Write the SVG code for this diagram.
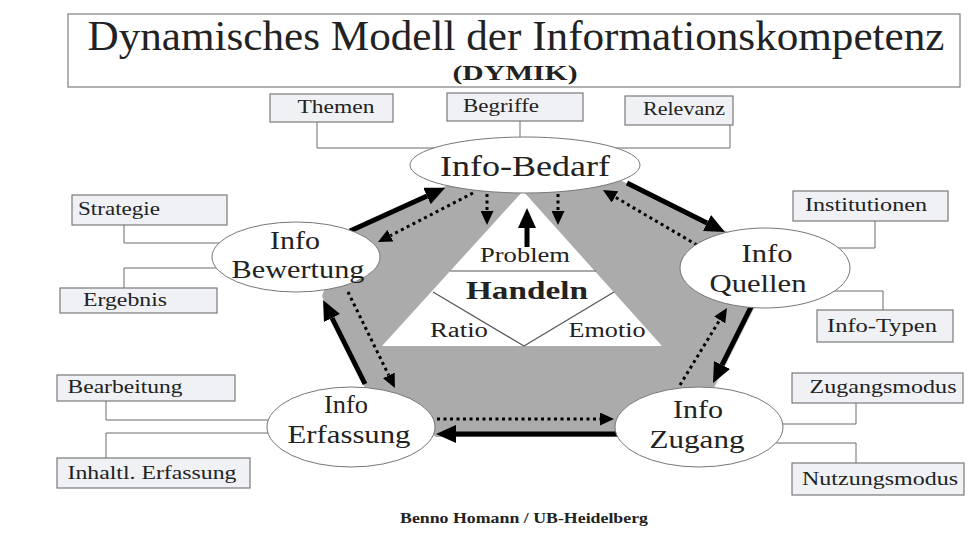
<svg xmlns="http://www.w3.org/2000/svg" width="976" height="542" viewBox="0 0 976 542">
<style>
text{font-family:"Liberation Serif","DejaVu Serif",serif;fill:#222;}
.box{fill:#eff1f5;stroke:#7a7a7a;stroke-width:1.2;}
.bt{font-size:19px;text-anchor:middle;}
.ell{fill:#fff;stroke:#777;stroke-width:1;}
.et{font-size:25px;text-anchor:middle;}
.link{fill:none;stroke:#6a6a6a;stroke-width:1;}
.thick{fill:none;stroke:#000;stroke-width:5;marker-end:url(#ah);}
.dot{fill:none;stroke:#000;stroke-width:3;stroke-dasharray:3 3.5;marker-end:url(#ahs);}
.tl{fill:none;stroke:#555;stroke-width:1.2;}
</style>
<defs>
<marker id="ah" markerUnits="userSpaceOnUse" markerWidth="20" markerHeight="18" refX="0" refY="9" orient="auto"><path d="M0,0 L20,9 L0,18 z" fill="#000"/></marker>
<marker id="ahs" markerUnits="userSpaceOnUse" markerWidth="14" markerHeight="13" refX="0" refY="6.5" orient="auto"><path d="M0,0 L14,6.5 L0,13 z" fill="#000"/></marker>
</defs>
<rect width="976" height="542" fill="#fff"/>
<g id="title">
<rect x="68" y="14" width="892" height="73" fill="#fff" stroke="#888" stroke-width="1.3"/>
<text x="516" y="50" font-size="42" text-anchor="middle" textLength="857" lengthAdjust="spacingAndGlyphs">Dynamisches Modell der Informationskompetenz</text>
<text x="515" y="80" font-size="22" font-weight="bold" text-anchor="middle" textLength="125" lengthAdjust="spacingAndGlyphs">(DYMIK)</text>
</g>
<g id="cycle-area">
<polygon points="345,234 450,184 620,180 730,233 758,300 712,392 617,437 436,437 365,388 322,296" fill="#ababab"/>
</g>
<g id="handeln">
<polygon points="523,191 382,346 662,346" fill="#fff"/>
<line class="tl" x1="450" y1="271" x2="596" y2="271"/>
<line class="tl" x1="433" y1="292" x2="524" y2="346"/>
<line class="tl" x1="614" y1="292" x2="524" y2="346"/>
<text x="525" y="262" font-size="21" text-anchor="middle" textLength="90" lengthAdjust="spacingAndGlyphs">Problem</text>
<text x="527" y="299" font-size="25" font-weight="bold" text-anchor="middle" textLength="122" lengthAdjust="spacingAndGlyphs">Handeln</text>
<text x="459" y="337" font-size="20" text-anchor="middle" textLength="58" lengthAdjust="spacingAndGlyphs">Ratio</text>
<text x="607" y="337" font-size="20" text-anchor="middle" textLength="77" lengthAdjust="spacingAndGlyphs">Emotio</text>
</g>
<g id="connectors">
<path class="link" d="M317,122 V148 H450"/>
<path class="link" d="M520,121 V145"/>
<path class="link" d="M730,125 V148 H600"/>
<path class="link" d="M124,225 V243 H240"/>
<path class="link" d="M124,288 V268 H240"/>
<path class="link" d="M875,221 V248 H800"/>
<path class="link" d="M800,291 H883 V310"/>
<path class="link" d="M106,401 V420 H300"/>
<path class="link" d="M106,458 V433 H300"/>
<path class="link" d="M856,403 V424 H740"/>
<path class="link" d="M740,443 H856 V463"/>
<line class="thick" x1="350" y1="231" x2="427" y2="196"/>
<line class="thick" x1="627" y1="183" x2="707" y2="223"/>
<line class="thick" x1="753" y1="303" x2="722" y2="365"/>
<line class="thick" x1="617" y1="434" x2="456" y2="434"/>
<line class="thick" x1="365" y1="384" x2="332" y2="318"/>
<line class="thick" x1="527" y1="247" x2="527" y2="228"/>
<line class="dot" x1="473" y1="193" x2="390.4" y2="235.6"/>
<line class="dot" x1="697" y1="245" x2="615" y2="197"/>
<line class="dot" x1="680" y1="385" x2="719.7" y2="320"/>
<line class="dot" x1="437" y1="419" x2="600" y2="419"/>
<line class="dot" x1="348" y1="292" x2="388.8" y2="375.4"/>
<line class="dot" x1="487" y1="194" x2="487" y2="211"/>
<line class="dot" x1="558" y1="194" x2="558" y2="211"/>
</g>
<g id="info-bedarf">
<ellipse class="ell" cx="525" cy="165" rx="115" ry="28"/>
<text x="525" y="176" font-size="30" text-anchor="middle" textLength="170" lengthAdjust="spacingAndGlyphs">Info-Bedarf</text>
</g>
<g id="info-bewertung">
<ellipse class="ell" cx="296" cy="257" rx="84" ry="35"/>
<text class="et" x="295" y="249" textLength="50" lengthAdjust="spacingAndGlyphs">Info</text>
<text class="et" x="298" y="278" textLength="133" lengthAdjust="spacingAndGlyphs">Bewertung</text>
</g>
<g id="info-quellen">
<ellipse class="ell" cx="765" cy="268" rx="85" ry="40"/>
<text class="et" x="767" y="262" textLength="51" lengthAdjust="spacingAndGlyphs">Info</text>
<text class="et" x="758" y="292" textLength="97" lengthAdjust="spacingAndGlyphs">Quellen</text>
</g>
<g id="info-zugang">
<ellipse class="ell" cx="699" cy="427" rx="84" ry="40"/>
<text class="et" x="698" y="418" textLength="50" lengthAdjust="spacingAndGlyphs">Info</text>
<text class="et" x="697" y="448" textLength="95" lengthAdjust="spacingAndGlyphs">Zugang</text>
</g>
<g id="info-erfassung">
<ellipse class="ell" cx="351" cy="427" rx="84" ry="40"/>
<text class="et" x="346" y="413" textLength="44" lengthAdjust="spacingAndGlyphs">Info</text>
<text class="et" x="349" y="443" textLength="123" lengthAdjust="spacingAndGlyphs">Erfassung</text>
</g>
<g id="themen"><rect class="box" x="270" y="94" width="123" height="28"/><text class="bt" x="336" y="113" textLength="77" lengthAdjust="spacingAndGlyphs">Themen</text></g>
<g id="begriffe"><rect class="box" x="447" y="93" width="136" height="28"/><text class="bt" x="501" y="112" textLength="76" lengthAdjust="spacingAndGlyphs">Begriffe</text></g>
<g id="relevanz"><rect class="box" x="625" y="96" width="108" height="29"/><text class="bt" x="684" y="115" textLength="82" lengthAdjust="spacingAndGlyphs">Relevanz</text></g>
<g id="strategie"><rect class="box" x="72" y="195" width="155" height="30"/><text class="bt" x="119" y="215" textLength="82" lengthAdjust="spacingAndGlyphs">Strategie</text></g>
<g id="ergebnis"><rect class="box" x="60" y="288" width="157" height="25"/><text class="bt" x="125" y="306" textLength="84" lengthAdjust="spacingAndGlyphs">Ergebnis</text></g>
<g id="institutionen"><rect class="box" x="793" y="191" width="155" height="30"/><text class="bt" x="866" y="211" textLength="122" lengthAdjust="spacingAndGlyphs">Institutionen</text></g>
<g id="info-typen"><rect class="box" x="817" y="310" width="136" height="32"/><text class="bt" x="882" y="332" textLength="110" lengthAdjust="spacingAndGlyphs">Info-Typen</text></g>
<g id="bearbeitung"><rect class="box" x="57" y="375" width="178" height="26"/><text class="bt" x="125" y="393" textLength="115" lengthAdjust="spacingAndGlyphs">Bearbeitung</text></g>
<g id="inhaltl-erfassung"><rect class="box" x="57" y="458" width="193" height="30"/><text class="bt" x="152" y="479" textLength="169" lengthAdjust="spacingAndGlyphs">Inhaltl. Erfassung</text></g>
<g id="zugangsmodus"><rect class="box" x="792" y="373" width="171" height="30"/><text class="bt" x="883" y="393" textLength="147" lengthAdjust="spacingAndGlyphs">Zugangsmodus</text></g>
<g id="nutzungsmodus"><rect class="box" x="792" y="463" width="172" height="32"/><text class="bt" x="880" y="485" textLength="156" lengthAdjust="spacingAndGlyphs">Nutzungsmodus</text></g>
<g id="footer">
<text x="524" y="523" font-size="14" font-weight="bold" text-anchor="middle" fill="#333" textLength="248" lengthAdjust="spacingAndGlyphs">Benno Homann / UB-Heidelberg</text>
</g>
</svg>
